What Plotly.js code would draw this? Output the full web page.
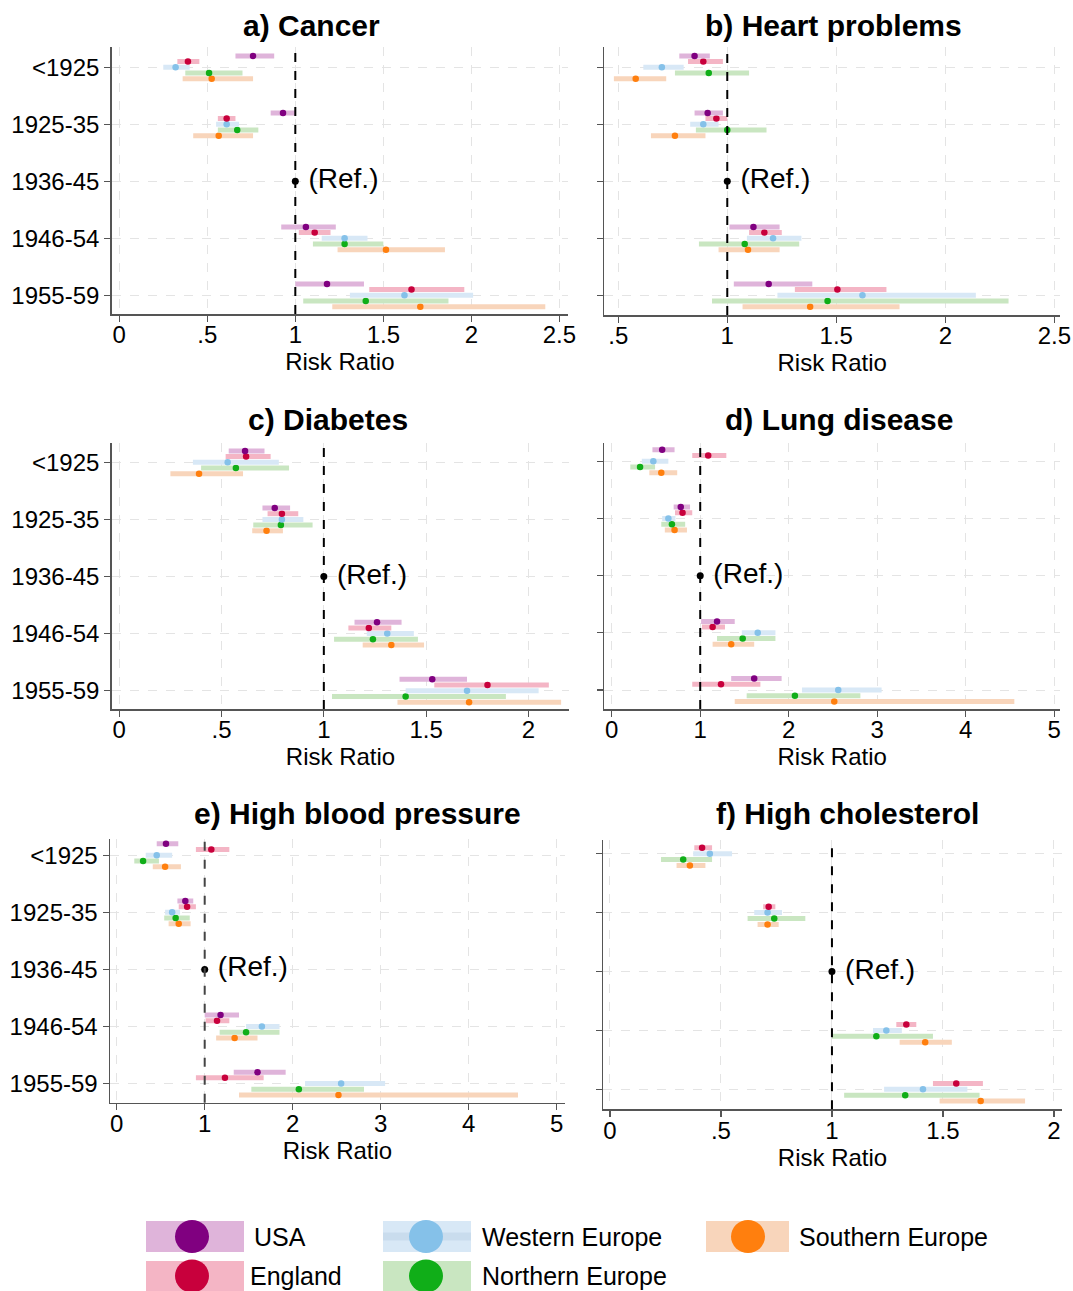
<!DOCTYPE html>
<html>
<head>
<meta charset="utf-8">
<script src="https://cdn.plot.ly/plotly-3.0.1.min.js"></script>
<style>html,body{margin:0;padding:0;background:#fff;}#chart{width:1073px;height:1291px;}</style>
</head>
<body>
<div id="chart"></div>
<script>
// ---------------- DATA ----------------
const cohorts = ['<1925', '1925-35', '1936-45', '1946-54', '1955-59'];
const estCohorts = ['<1925', '1925-35', '1946-54', '1955-59'];
const refCohort = '1936-45';
const refValue = 1;
const regions = ['USA', 'England', 'Western Europe', 'Northern Europe', 'Southern Europe'];
const panelTitles = ['a) Cancer', 'b) Heart problems', 'c) Diabetes', 'd) Lung disease', 'e) High blood pressure', 'f) High cholesterol'];
const xTitle = 'Risk Ratio';

// rows: regions (USA, England, Western, Northern, Southern); columns: estCohorts
const cancerEst = [[0.76, 0.93, 1.06, 1.18], [0.39, 0.61, 1.11, 1.66], [0.32, 0.61, 1.28, 1.62], [0.51, 0.67, 1.28, 1.40], [0.525, 0.565, 1.515, 1.71]];
const cancerLo  = [[0.66, 0.86, 0.92, 1.00], [0.33, 0.56, 1.02, 1.42], [0.25, 0.55, 1.15, 1.31], [0.375, 0.56, 1.10, 1.045], [0.36, 0.42, 1.24, 1.21]];
const cancerHi  = [[0.88, 1.00, 1.23, 1.39], [0.455, 0.66, 1.20, 1.96], [0.40, 0.68, 1.41, 2.01], [0.70, 0.79, 1.50, 1.87], [0.76, 0.76, 1.85, 2.42]];

const heartEst = [[0.85, 0.91, 1.12, 1.19], [0.89, 0.95, 1.17, 1.505], [0.70, 0.89, 1.21, 1.62], [0.915, 1.00, 1.08, 1.46], [0.58, 0.76, 1.095, 1.38]];
const heartLo  = [[0.78, 0.85, 1.01, 1.03], [0.82, 0.90, 1.10, 1.31], [0.615, 0.83, 1.09, 1.23], [0.76, 0.856, 0.87, 0.93], [0.48, 0.65, 0.96, 1.07]];
const heartHi  = [[0.92, 0.98, 1.24, 1.39], [0.98, 1.00, 1.25, 1.73], [0.80, 0.96, 1.34, 2.14], [1.10, 1.18, 1.33, 2.29], [0.72, 0.90, 1.24, 1.79]];

const diabetesEst = [[0.615, 0.76, 1.26, 1.53], [0.62, 0.795, 1.22, 1.80], [0.53, 0.795, 1.31, 1.70], [0.57, 0.79, 1.24, 1.40], [0.39, 0.72, 1.33, 1.71]];
const diabetesLo  = [[0.535, 0.70, 1.15, 1.37], [0.52, 0.725, 1.12, 1.54], [0.36, 0.70, 1.21, 1.40], [0.40, 0.655, 1.05, 1.04], [0.25, 0.65, 1.19, 1.36]];
const diabetesHi  = [[0.71, 0.835, 1.38, 1.70], [0.74, 0.875, 1.33, 2.10], [0.78, 0.90, 1.44, 2.05], [0.83, 0.945, 1.46, 1.89], [0.605, 0.80, 1.49, 2.16]];

const lungEst = [[0.57, 0.78, 1.19, 1.61], [1.09, 0.80, 1.14, 1.235], [0.47, 0.64, 1.65, 2.56], [0.32, 0.68, 1.48, 2.07], [0.56, 0.71, 1.35, 2.515]];
const lungLo  = [[0.46, 0.70, 1.01, 1.35], [0.91, 0.715, 1.02, 0.91], [0.34, 0.57, 1.47, 2.15], [0.21, 0.56, 1.19, 1.525], [0.425, 0.60, 1.14, 1.39]];
const lungHi  = [[0.71, 0.885, 1.39, 1.92], [1.295, 0.91, 1.28, 1.68], [0.64, 0.72, 1.85, 3.05], [0.49, 0.83, 1.85, 2.81], [0.74, 0.85, 1.61, 4.55]];

const bpEst = [[0.56, 0.78, 1.18, 1.60], [1.075, 0.80, 1.14, 1.23], [0.455, 0.63, 1.65, 2.55], [0.30, 0.67, 1.47, 2.07], [0.55, 0.705, 1.34, 2.52]];
const bpLo  = [[0.455, 0.69, 1.00, 1.33], [0.90, 0.705, 1.01, 0.90], [0.33, 0.55, 1.47, 2.14], [0.20, 0.54, 1.17, 1.53], [0.41, 0.59, 1.13, 1.39]];
const bpHi  = [[0.70, 0.87, 1.39, 1.92], [1.28, 0.90, 1.28, 1.67], [0.63, 0.72, 1.85, 3.05], [0.48, 0.83, 1.85, 2.81], [0.73, 0.84, 1.60, 4.56]];

const cholEst = [[null, null, null, null], [0.415, 0.715, 1.335, 1.56], [0.45, 0.71, 1.245, 1.41], [0.33, 0.74, 1.20, 1.33], [0.36, 0.71, 1.42, 1.67]];
const cholLo  = [[null, null, null, null], [0.38, 0.69, 1.29, 1.455], [0.375, 0.65, 1.185, 1.235], [0.23, 0.62, 1.00, 1.055], [0.30, 0.665, 1.305, 1.485]];
const cholHi  = [[null, null, null, null], [0.46, 0.745, 1.38, 1.68], [0.55, 0.775, 1.315, 1.61], [0.46, 0.88, 1.455, 1.665], [0.43, 0.76, 1.54, 1.87]];

const xTickVals = [[0, 0.5, 1, 1.5, 2, 2.5], [0.5, 1, 1.5, 2, 2.5], [0, 0.5, 1, 1.5, 2], [0, 1, 2, 3, 4, 5], [0, 1, 2, 3, 4, 5], [0, 0.5, 1, 1.5, 2]];
const xTickText = [['0', '.5', '1', '1.5', '2', '2.5'], ['.5', '1', '1.5', '2', '2.5'], ['0', '.5', '1', '1.5', '2'], ['0', '1', '2', '3', '4', '5'], ['0', '1', '2', '3', '4', '5'], ['0', '.5', '1', '1.5', '2']];

// ---------------- STYLE ----------------
const pointColors = ['#800080', '#c8003c', '#85c1e9', '#10ae18', '#ff7f0e'];
const barColors = ['#dfb4da', '#f4b5c5', '#d8e8f6', '#c9e6c1', '#f8d5bb'];
const rowOffsets = [0.2, 0.1, 0, -0.1, -0.2];
const FONT = 'Liberation Sans, Arial, Helvetica, sans-serif';
const W = 1073, H = 1291;

const panelData = [
  [cancerEst, cancerLo, cancerHi],
  [heartEst, heartLo, heartHi],
  [diabetesEst, diabetesLo, diabetesHi],
  [lungEst, lungLo, lungHi],
  [bpEst, bpLo, bpHi],
  [cholEst, cholLo, cholHi]
];

// geometry in pixels: [x0, x1, y0(top), y1(bottom)], axis ranges
const geom = [
  {px: [111.7, 568, 47, 314],    xr: [-0.043, 2.549], yr: [0.672, 5.356], tx: 311, refColor: '#000'},
  {px: [604.3, 1060, 47, 315],   xr: [0.436, 2.526],  yr: [0.654, 5.356], tx: 833, refColor: '#000'},
  {px: [111.7, 569.3, 443, 709], xr: [-0.037, 2.2],   yr: [0.68, 5.338],  tx: 328, refColor: '#000'},
  {px: [604.3, 1060, 443, 709],  xr: [-0.084, 5.066], yr: [0.668, 5.32],  tx: 839, refColor: '#000'},
  {px: [110, 565, 839, 1102.7],  xr: [-0.076, 5.094], yr: [0.665, 5.285], tx: 357, refColor: '#444'},
  {px: [603.3, 1061.7, 840, 1109.3], xr: [-0.03, 2.035], yr: [0.66, 5.233], tx: 847, refColor: '#000'}
];
const titleY = [25, 25, 419, 419, 813, 813];

function ypos(cohort) { return cohorts.length - cohorts.indexOf(cohort); }

const traces = [];
const layout = {
  width: W, height: H,
  margin: {l: 0, r: 0, t: 0, b: 0},
  paper_bgcolor: '#fff', plot_bgcolor: '#fff',
  showlegend: false,
  font: {family: FONT, color: '#000'},
  shapes: [], annotations: []
};

panelData.forEach((pd, p) => {
  const [est, lo, hi] = pd;
  const g = geom[p];
  const xa = 'x' + (p + 1), ya = 'y' + (p + 1);
  const xk = 'xaxis' + (p + 1), yk = 'yaxis' + (p + 1);
  for (let r = regions.length - 1; r >= 0; r--) {
    const xs = [], ys = [], ep = [], em = [];
    estCohorts.forEach((c, i) => {
      const v = est[r][i];
      if (v === null) return;
      xs.push(v);
      ys.push(ypos(c) + rowOffsets[r]);
      ep.push(hi[r][i] - v);
      em.push(v - lo[r][i]);
    });
    if (!xs.length) continue;
    traces.push({
      type: 'scatter', mode: 'markers', name: regions[r],
      x: xs, y: ys, xaxis: xa, yaxis: ya,
      marker: {color: pointColors[r], size: 6.5, line: {width: 0}},
      error_x: {type: 'data', symmetric: false, array: ep, arrayminus: em,
                color: barColors[r], thickness: 5, width: 0},
      hoverinfo: 'x+name', cliponaxis: false
    });
  }
  // reference point
  traces.push({
    type: 'scatter', mode: 'markers+text', x: [refValue], y: [ypos(refCohort)],
    xaxis: xa, yaxis: ya, text: ['\u00a0(Ref.)'], textposition: 'middle right',
    textfont: {family: FONT, size: 28, color: '#000'},
    marker: {color: '#000', size: 7}, hoverinfo: 'skip', cliponaxis: false
  });
  layout.shapes.push({
    type: 'line', xref: xa, yref: ya + ' domain', x0: refValue, x1: refValue, y0: 0, y1: 1,
    line: {color: g.refColor, width: 2, dash: 'dash'}, layer: 'above'
  });

  layout[xk] = {
    domain: [g.px[0] / W, g.px[1] / W], range: g.xr, anchor: ya,
    tickvals: xTickVals[p], ticktext: xTickText[p],
    tickfont: {family: FONT, size: 24, color: '#000'},
    ticks: 'outside', ticklen: 6, tickwidth: 1.2, tickcolor: '#555',
    ticklabelstandoff: -7,
    showline: true, linecolor: '#555', linewidth: 1.5,
    showgrid: true, gridcolor: '#e4e4e4', griddash: 'dash', gridwidth: 1,
    zeroline: false, fixedrange: true,
    title: {text: xTitle, font: {family: FONT, size: 24, color: '#000'}, standoff: 6}
  };
  layout[yk] = {
    domain: [1 - g.px[3] / H, 1 - g.px[2] / H], range: g.yr, anchor: xa,
    tickvals: cohorts.map(ypos), ticktext: cohorts.slice(),
    showticklabels: (p % 2 === 0),
    tickfont: {family: FONT, size: 24, color: '#000'},
    ticks: 'outside', ticklen: 6, tickwidth: 1.2, tickcolor: '#555',
    showline: true, linecolor: '#555', linewidth: 1.5,
    showgrid: true, gridcolor: '#e4e4e4', griddash: 'dash', gridwidth: 1,
    zeroline: false, fixedrange: true
  };
  layout.annotations.push({
    xref: 'paper', yref: 'paper', x: g.tx / W, y: 1 - titleY[p] / H,
    xanchor: 'center', yanchor: 'middle', showarrow: false,
    text: '<b>' + panelTitles[p] + '</b>', font: {family: FONT, size: 30, color: '#000'}
  });
});

// ---------------- LEGEND (drawn) ----------------
const legendPos = [
  {rx: [146, 244], ry: [1221, 1252], cx: 192, tx: 252},
  {rx: [146, 244], ry: [1261, 1291], cx: 192, tx: 248},
  {rx: [383, 471], ry: [1221, 1252], cx: 426, tx: 480},
  {rx: [383, 471], ry: [1261, 1291], cx: 426, tx: 480},
  {rx: [706, 789], ry: [1221, 1252], cx: 748, tx: 797}
];
regions.forEach((name, r) => {
  const lp = legendPos[r];
  const cy = (lp.ry[0] + lp.ry[1]) / 2;
  layout.shapes.push({type: 'rect', xref: 'paper', yref: 'paper',
    x0: lp.rx[0] / W, x1: lp.rx[1] / W, y0: 1 - lp.ry[1] / H, y1: 1 - lp.ry[0] / H,
    fillcolor: barColors[r], line: {width: 0}});
  if (r === 2) {
    layout.shapes.push({type: 'rect', xref: 'paper', yref: 'paper',
      x0: lp.rx[0] / W, x1: lp.rx[1] / W, y0: 1 - (cy + 4) / H, y1: 1 - (cy - 4) / H,
      fillcolor: '#c9dced', line: {width: 0}});
  }
  layout.shapes.push({type: 'circle', xref: 'paper', yref: 'paper',
    x0: (lp.cx - 17) / W, x1: (lp.cx + 17) / W, y0: 1 - (cy + 16.5) / H, y1: 1 - (cy - 16.5) / H,
    fillcolor: pointColors[r], line: {width: 0}});
  layout.annotations.push({xref: 'paper', yref: 'paper', x: lp.tx / W, y: 1 - cy / H,
    xanchor: 'left', yanchor: 'middle', showarrow: false, text: name,
    font: {family: FONT, size: 25, color: '#000'}});
});

Plotly.newPlot('chart', traces, layout, {staticPlot: true, displayModeBar: false});
</script>
</body>
</html>
